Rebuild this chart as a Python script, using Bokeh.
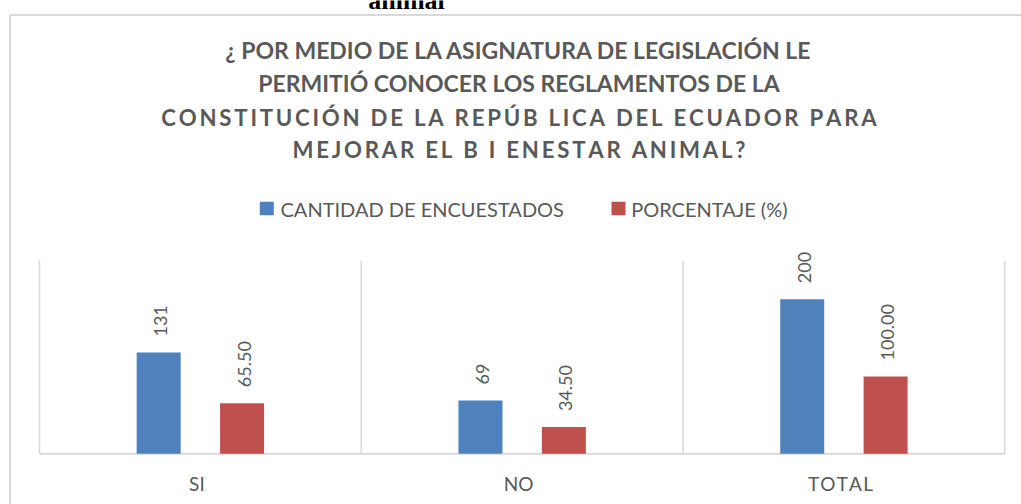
import numpy as np
from bokeh.plotting import figure
from bokeh.models import Range1d, ColumnDataSource
from bokeh.transform import dodge
from bokeh.core.properties import value
from bokeh.embed import file_html
from bokeh.resources import INLINE

# ---------------- data ----------------
categories = ["SI", "NO", "TOTAL"]
cantidad = [131, 69, 200]
porcentaje = [65.50, 34.50, 100.00]
cantidad_labels = ["131", "69", "200"]
porcentaje_labels = ["65.50", "34.50", "100.00"]
series_names = ["CANTIDAD DE ENCUESTADOS", "PORCENTAJE (%)"]
title_lines = [
    "¿ POR MEDIO DE LA ASIGNATURA DE LEGISLACIÓN LE",
    "PERMITIÓ CONOCER LOS REGLAMENTOS DE LA",
    "CONSTITUCIÓN DE LA REPÚB LICA DEL ECUADOR PARA",
    "MEJORAR EL B I ENESTAR ANIMAL?",
]
spaced_categories = [False, False, True]
caption_above = "animal"

# ---------------- layout / style ----------------
W, H = 1021, 504
PLOT_L, PLOT_R = 39.0, 1004.3
PLOT_BASE, PLOT_TOP = 453.3, 260.0
Y_MAX = 250
ppu = (PLOT_BASE - PLOT_TOP) / Y_MAX
cat_px = (PLOT_R - PLOT_L) / len(categories)
BAR_W = 44 / cat_px
OFF = 41.7 / cat_px
BLUE, RED = "#4f81bd", "#c0504d"
TXT = "#595959"
GRID = "#d9d9d9"
FONT = "Lato"
THIN = "\u2009"
HAIR = "\u200a"


def spaced(s, sep):
    return sep.join(list(s))


p = figure(width=W, height=H, x_range=Range1d(0, W), y_range=Range1d(H, 0),
           output_backend="svg", toolbar_location=None, min_border=0)
p.axis.visible = False
p.grid.visible = False
p.outline_line_color = None
p.background_fill_color = "white"
p.border_fill_color = "white"
p.extra_x_ranges = {"cat": Range1d(-PLOT_L / cat_px, len(categories) + (W - PLOT_R) / cat_px)}
p.extra_y_ranges = {"val": Range1d(-(H - PLOT_BASE) / ppu, PLOT_BASE / ppu)}

# caption of the page above the chart (cut off at the top, as in the source)
p.text(x=[406], y=[0], text=[caption_above], text_align="center",
       text_baseline="alphabetic", text_font=value("Liberation Serif"),
       text_font_style="bold", text_font_size="26px", text_color="black")

# outer chart border (left and top visible)
p.segment(x0=[9.5, 9.5], y0=[14.5, 14.5], x1=[9.5, W + 5], y1=[H + 5, 14.5],
          line_color=GRID, line_width=2)

# title: two plain lines and two letter-spaced lines
p.text(x=[518.5] * 2, y=[49.0, 82.7], text=title_lines[:2], text_align="center",
       text_baseline="middle", text_font=value(FONT), text_font_style="bold",
       text_font_size="23px", text_color=TXT)
p.text(x=[518.5] * 2, y=[116.5, 149.3], text=[spaced(t, THIN) for t in title_lines[2:]],
       text_align="center", text_baseline="middle", text_font=value(FONT),
       text_font_style="bold", text_font_size="22.2px", text_color=TXT)

# legend
p.rect(x=[266.3, 618.0], y=[208.0, 208.0], width=14, height=13.3,
       fill_color=[BLUE, RED], line_color=None)
p.text(x=[280.0, 630.7], y=[208.5, 208.5], text=series_names, text_align="left",
       text_baseline="middle", text_font=value(FONT), text_font_size="20px",
       text_color=TXT)

src = ColumnDataSource(dict(
    x=np.arange(len(categories)) + 0.5,
    cantidad=cantidad, porcentaje=porcentaje,
    cl=cantidad_labels, pl=porcentaje_labels,
    cat=[spaced(c, HAIR) if s else c for c, s in zip(categories, spaced_categories)],
))

# category separators and baseline
p.segment(x0=list(range(len(categories) + 1)), y0=0,
          x1=list(range(len(categories) + 1)), y1=Y_MAX,
          line_color=GRID, line_width=1.5, x_range_name="cat", y_range_name="val")
p.segment(x0=0, y0=0, x1=len(categories), y1=0, line_color=GRID, line_width=2,
          x_range_name="cat", y_range_name="val")

# bars
p.vbar(x=dodge("x", -OFF), top="cantidad", bottom=0, width=BAR_W, source=src,
       fill_color=BLUE, line_color=None, x_range_name="cat", y_range_name="val")
p.vbar(x=dodge("x", OFF), top="porcentaje", bottom=0, width=BAR_W, source=src,
       fill_color=RED, line_color=None, x_range_name="cat", y_range_name="val")

# data labels
for col, lab, off in [("cantidad", "cl", -OFF), ("porcentaje", "pl", OFF)]:
    p.text(x=dodge("x", off), y=col, text=lab, source=src, angle=np.pi / 2,
           text_align="left", text_baseline="middle", x_offset=2, y_offset=-16,
           text_font=value(FONT), text_font_size="18px", text_color=TXT,
           x_range_name="cat", y_range_name="val")

# category labels
p.text(x="x", y=482.5, text="cat", source=src, text_align="center",
       text_baseline="middle", x_offset=-3.5, text_font=value(FONT),
       text_font_size="19px", text_color=TXT, x_range_name="cat")

open("out.html", "w").write(file_html(p, INLINE))
